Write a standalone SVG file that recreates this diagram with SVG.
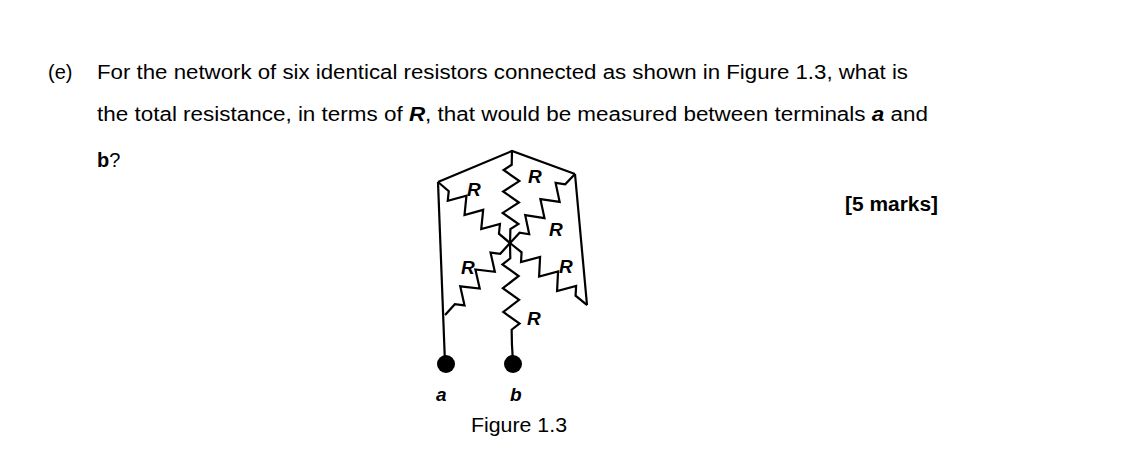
<svg xmlns="http://www.w3.org/2000/svg" width="1124" height="463" viewBox="0 0 1124 463">
<style>
text{font-family:"Liberation Sans",Arial,sans-serif;font-size:20px;fill:#000}
.w{fill:none;stroke:#000;stroke-width:2.2;stroke-linejoin:miter}
.r{fill:none;stroke:#000;stroke-width:2.2;vector-effect:non-scaling-stroke}
.lb{font-weight:bold;font-style:italic;font-size:19px}
</style>
<defs>
<polyline id="res" class="r" points="0,0 15,0 20.8,8 32.5,-8 44.2,8 55.8,-8 67.5,8 79.2,-8 85,0 100,0"/>
</defs>
<rect width="1124" height="463" fill="#fff"/>
<text x="48" y="79">(e)</text>
<text x="97" y="79" textLength="811" lengthAdjust="spacingAndGlyphs">For the network of six identical resistors connected as shown in Figure 1.3, what is</text>
<text x="97" y="121" textLength="831" lengthAdjust="spacingAndGlyphs">the total resistance, in terms of <tspan font-weight="bold" font-style="italic">R</tspan>, that would be measured between terminals <tspan font-weight="bold" font-style="italic">a</tspan> and</text>
<text x="97" y="167"><tspan font-weight="bold">b</tspan>?</text>
<text x="845" y="211" font-weight="bold" textLength="93" lengthAdjust="spacingAndGlyphs">[5 marks]</text>
<g id="connectors">
<polyline class="w" points="438,182 512,151 575,174"/>
<line class="w" x1="438" y1="182" x2="445" y2="363"/>
<line class="w" x1="575" y1="174" x2="587" y2="305"/>
<line class="w" x1="512" y1="345" x2="513" y2="363"/>
</g>
<g id="R1"><use href="#res" transform="translate(438,182) rotate(40.3) scale(0.94,1)"/><text class="lb" x="467" y="196">R</text></g>
<g id="R2"><use href="#res" transform="translate(512,151) rotate(91.2) scale(0.92,1)"/><text class="lb" x="528" y="183">R</text></g>
<g id="R3"><use href="#res" transform="translate(575,174) rotate(133.3) scale(0.95,1)"/><text class="lb" x="549" y="236">R</text></g>
<g id="R4"><use href="#res" transform="translate(510,243) rotate(132) scale(0.97,1)"/><text class="lb" x="461" y="274">R</text></g>
<g id="R5"><use href="#res" transform="translate(510,243) rotate(38.8) scale(0.99,1)"/><text class="lb" x="559" y="273">R</text></g>
<g id="R6"><use href="#res" transform="translate(510,243) rotate(88.9) scale(1.02,1)"/><text class="lb" x="527" y="325">R</text></g>
<g id="a"><circle cx="446" cy="364" r="9"/><text class="lb" x="436" y="401">a</text></g>
<g id="b"><circle cx="513" cy="364" r="9"/><text class="lb" x="510" y="401">b</text></g>
<text x="471" y="432" textLength="96" lengthAdjust="spacingAndGlyphs">Figure 1.3</text>
</svg>
